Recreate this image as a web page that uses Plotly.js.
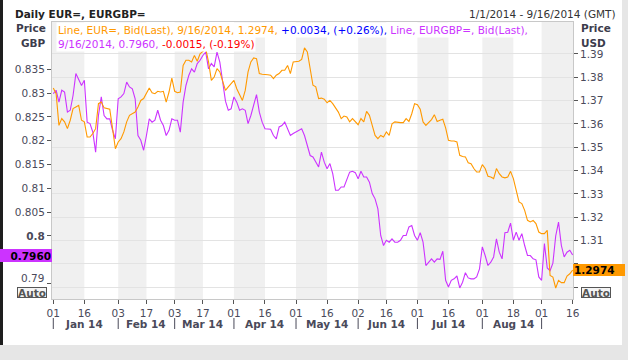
<!DOCTYPE html>
<html><head><meta charset="utf-8">
<script src="https://cdn.plot.ly/plotly-3.0.1.min.js"></script>
<style>
html,body{margin:0;padding:0;background:#e6e6e6;overflow:hidden;}
#frame{position:absolute;left:0;top:0;width:622px;height:345px;background:#fff;border-left:3px solid #1e1e1e;box-sizing:border-box;}
#chart{position:absolute;left:0;top:0;width:628px;height:360px;}
</style></head><body>
<div id="frame"></div><div id="chart"></div>
<script>
// ---- data ----
const startDay = '2014-01-01';
const endDay = '2014-09-16';

const eurUsd = [
1.3754,1.3730,1.3594,1.3623,1.3609,1.3580,1.3616,1.3666,1.3673,1.3680,
1.3616,1.3609,1.3544,1.3544,1.3559,1.3580,1.3687,1.3694,1.3669,1.3666,
1.3663,1.3580,1.3494,1.3523,1.3537,1.3566,1.3609,1.3637,1.3644,1.3651,
1.3673,1.3701,1.3709,1.3730,1.3754,1.3734,1.3730,1.3740,1.3737,1.3740,
1.3694,1.3737,1.3797,1.3740,1.3734,1.3737,1.3851,1.3873,1.3873,1.3866,
1.3894,1.3869,1.3901,1.3911,1.3923,1.3866,1.3787,1.3801,1.3837,1.3823,
1.3787,1.3744,1.3759,1.3773,1.3787,1.3751,1.3723,1.3701,1.3744,1.3823,
1.3866,1.3883,1.3880,1.3816,1.3813,1.3813,1.3811,1.3809,1.3794,1.3809,
1.3816,1.3830,1.3830,1.3851,1.3816,1.3866,1.3869,1.3869,1.3877,1.3926,
1.3909,1.3837,1.3766,1.3759,1.3709,1.3711,1.3706,1.3691,1.3701,1.3687,
1.3666,1.3651,1.3623,1.3634,1.3630,1.3609,1.3623,1.3609,1.3597,1.3623,
1.3609,1.3654,1.3637,1.3594,1.3551,1.3537,1.3551,1.3544,1.3566,1.3551,
1.3601,1.3609,1.3606,1.3606,1.3606,1.3623,1.3611,1.3644,1.3687,1.3683,
1.3663,1.3609,1.3594,1.3609,1.3619,1.3640,1.3611,1.3616,1.3620,1.3583,
1.3530,1.3527,1.3527,1.3523,1.3466,1.3461,1.3459,1.3434,1.3430,1.3409,
1.3394,1.3394,1.3426,1.3409,1.3376,1.3373,1.3366,1.3409,1.3387,1.3373,
1.3369,1.3373,1.3397,1.3366,1.3309,1.3266,1.3259,1.3230,1.3187,1.3180,
1.3187,1.3173,1.3137,1.3130,1.3130,1.3144,1.2951,1.2944,1.2897,1.2930,
1.2920,1.2920,1.2948,1.2958,1.2974];

const eurGbp = [
0.8299,0.8306,0.8281,0.8306,0.8302,0.8260,0.8264,0.8295,0.8341,0.8330,
0.8316,0.8327,0.8239,0.8236,0.8218,0.8176,0.8253,0.8292,0.8253,0.8246,
0.8246,0.8222,0.8204,0.8288,0.8292,0.8299,0.8323,0.8313,0.8309,0.8288,
0.8211,0.8201,0.8180,0.8211,0.8246,0.8239,0.8243,0.8264,0.8243,0.8232,
0.8211,0.8222,0.8246,0.8243,0.8243,0.8218,0.8281,0.8316,0.8337,0.8351,
0.8344,0.8362,0.8369,0.8379,0.8386,0.8351,0.8362,0.8355,0.8386,0.8365,
0.8320,0.8283,0.8264,0.8267,0.8292,0.8281,0.8264,0.8267,0.8264,0.8236,
0.8253,0.8278,0.8297,0.8260,0.8239,0.8225,0.8225,0.8224,0.8211,0.8204,
0.8229,0.8232,0.8239,0.8225,0.8211,0.8215,0.8218,0.8222,0.8225,0.8211,
0.8190,0.8169,0.8166,0.8155,0.8145,0.8176,0.8155,0.8141,0.8152,0.8131,
0.8096,0.8096,0.8103,0.8103,0.8120,0.8134,0.8136,0.8133,0.8120,0.8136,
0.8124,0.8124,0.8113,0.8089,0.8078,0.8057,0.8001,0.7980,0.7991,0.7987,
0.7994,0.7987,0.7987,0.7991,0.8001,0.8001,0.8019,0.8022,0.8001,0.7991,
0.8007,0.7987,0.7938,0.7945,0.7952,0.7945,0.7952,0.7951,0.7968,0.7907,
0.7893,0.7907,0.7910,0.7916,0.7891,0.7903,0.7923,0.7912,0.7910,0.7910,
0.7914,0.7931,0.7977,0.7959,0.7938,0.7945,0.7956,0.7994,0.7966,0.7952,
0.8007,0.8008,0.8027,0.7991,0.8008,0.7991,0.8005,0.7980,0.7959,0.7959,
0.7952,0.7950,0.7914,0.7907,0.7984,0.7933,0.7927,0.7943,0.8000,0.8029,
0.7980,0.7956,0.7966,0.7970,0.7960];

const tickDates = ['2014-01-01','2014-01-16','2014-02-03','2014-02-17','2014-03-03','2014-03-17',
  '2014-04-01','2014-04-16','2014-05-01','2014-05-16','2014-06-02','2014-06-16',
  '2014-07-01','2014-07-16','2014-08-01','2014-08-18','2014-09-01','2014-09-16'];
const tickLabels = ['01','16','03','17','03','17','01','16','01','16','02','16','01','16','01','18','01','16'];
const monthNames = ['Jan 14','Feb 14','Mar 14','Apr 14','May 14','Jun 14','Jul 14','Aug 14'];
const monthLabelDates = ['2014-01-16','2014-02-17','2014-03-17','2014-04-16','2014-05-16','2014-06-16','2014-07-16','2014-08-18'];
const monthStarts = ['2014-01-01','2014-02-03','2014-03-03','2014-04-01','2014-05-01','2014-06-02','2014-07-01','2014-08-01','2014-09-01'];
const bandStarts = ['2013-12-31 12:00','2014-02-03','2014-03-03','2014-04-01','2014-05-01','2014-06-02','2014-07-01','2014-08-01','2014-09-01'];
const bandEnds   = ['2014-01-16','2014-02-17','2014-03-17','2014-04-16','2014-05-16','2014-06-16','2014-07-16','2014-08-18','2014-09-17'];
const gbpTicks = [0.79,0.795,0.8,0.805,0.81,0.815,0.82,0.825,0.83,0.835];
// 0.795 sits under the last-value box and 0.79 is drawn lifted above the Auto box (see annotations)
const gbpTickText = ['','','<b>0.8</b>','0.805','0.81','0.815','0.82','0.825','0.83','0.835'];
const gbpLowLabel = '0.79';
const usdTicks = [1.29,1.30,1.31,1.32,1.33,1.34,1.35,1.36,1.37,1.38,1.39];
// 1.29 is covered by the Auto box and 1.3 by the last-value box in the reference
const usdTickText = ['','','1.31','1.32','1.33','1.34','1.35','1.36','1.37','1.38','1.39'];
const eurChange = '+0.0034, (+0.26%)';
const gbpChange = '-0.0015, (-0.19%)';

// ---- trading days (weekdays) ----
function weekdays(s, e) {
  const out = [];
  let d = new Date(s + 'T00:00:00Z');
  const end = new Date(e + 'T00:00:00Z');
  while (d <= end) {
    const w = d.getUTCDay();
    if (w !== 0 && w !== 6) out.push(d.toISOString().slice(0, 10));
    d = new Date(d.getTime() + 86400000);
  }
  return out;
}
const dates = weekdays(startDay, endDay);

const FONT = '"DejaVu Sans", Verdana, sans-serif';
const TXT = '#4a4a5a';
const ORANGE = '#ff9900';
const PURPLE = '#cc33ff';
const lastUsd = eurUsd[eurUsd.length - 1];
const lastGbp = eurGbp[eurGbp.length - 1];
const py = p => (299 - p) / 277;      // pixel row -> paper y
const px = p => (p - 52) / 521;       // pixel col -> paper x

const traces = [
  {x: dates, y: eurGbp, type: 'scatter', mode: 'lines', yaxis: 'y', line: {color: PURPLE, width: 1.1}, hoverinfo: 'skip'},
  {x: dates, y: eurUsd, type: 'scatter', mode: 'lines', yaxis: 'y2', line: {color: ORANGE, width: 1.1}, hoverinfo: 'skip'}
];

const shapes = [];
bandStarts.forEach((s, i) => shapes.push({type: 'rect', xref: 'x', yref: 'paper', x0: s, x1: bandEnds[i], y0: 0, y1: 1,
  fillcolor: '#f0f0f0', line: {width: 0}, layer: 'below'}));
monthStarts.forEach(d => shapes.push({type: 'line', xref: 'x', yref: 'paper', x0: d, x1: d, y0: py(318), y1: py(329),
  line: {color: TXT, width: 1}}));

const ann = [];
const base = {showarrow: false, font: {family: FONT, size: 10.5, color: TXT}};
ann.push(Object.assign({}, base, {xref: 'paper', yref: 'paper', x: px(56), xanchor: 'left', y: py(29.5), yanchor: 'middle',
  bgcolor: '#ffffff', borderpad: 1,
  text: '<span style="color:' + ORANGE + '">Line, EUR=, Bid(Last), 9/16/2014, ' + lastUsd.toFixed(4) + ', </span>' +
        '<span style="color:#0000ff">' + eurChange + ',</span>' +
        '<span style="color:' + PURPLE + '"> Line, EURGBP=, Bid(Last),</span>'}));
ann.push(Object.assign({}, base, {xref: 'paper', yref: 'paper', x: px(56), xanchor: 'left', y: py(43.5), yanchor: 'middle',
  bgcolor: '#ffffff', borderpad: 1,
  text: '<span style="color:' + PURPLE + '">9/16/2014, ' + lastGbp.toFixed(4) + ', </span>' +
        '<span style="color:#ff0000">' + gbpChange + '</span>'}));
// lifted lowest left tick label
ann.push(Object.assign({}, base, {xref: 'paper', yref: 'paper', x: 0, xanchor: 'right', xshift: -6, y: py(277.5), yanchor: 'middle',
  text: gbpLowLabel}));
// axis unit labels
[['Price', 28], ['GBP', 43]].forEach(t => ann.push(Object.assign({}, base, {xref: 'paper', yref: 'paper', x: 0, xanchor: 'right', xshift: -4,
  y: py(t[1]), yanchor: 'middle', text: '<b>' + t[0] + '</b>', font: {family: FONT, size: 10.5, color: '#3c3c4c'}})));
[['Price', 28], ['USD', 43]].forEach(t => ann.push(Object.assign({}, base, {xref: 'paper', yref: 'paper', x: 1, xanchor: 'left', xshift: 6,
  y: py(t[1]), yanchor: 'middle', text: '<b>' + t[0] + '</b>', font: {family: FONT, size: 10.5, color: '#3c3c4c'}})));
// header right
ann.push(Object.assign({}, base, {xref: 'paper', yref: 'paper', x: px(618), xanchor: 'right', y: py(14), yanchor: 'middle',
  text: '1/1/2014 - 9/16/2014 (GMT)', font: {family: FONT, size: 10.5, color: '#333'}}));
// month labels
monthNames.forEach((m, i) => ann.push(Object.assign({}, base, {xref: 'x', yref: 'paper', x: monthLabelDates[i], xanchor: 'center',
  y: py(323.5), yanchor: 'middle', text: '<b>' + m + '</b>'})));
// last value boxes
ann.push(Object.assign({}, base, {xref: 'paper', yref: 'y', x: 0, xanchor: 'right', y: lastGbp, yanchor: 'middle',
  width: 50, height: 11, borderpad: 1, borderwidth: 0, bgcolor: PURPLE, align: 'right',
  text: '<b>' + lastGbp.toFixed(4) + '</b>', font: {family: FONT, size: 10.5, color: '#000'}}));
ann.push(Object.assign({}, base, {xref: 'paper', yref: 'y2', x: 1, xanchor: 'left', y: lastUsd, yanchor: 'middle',
  width: 50, height: 10, borderpad: 1, borderwidth: 0, bgcolor: ORANGE, align: 'left',
  text: '<b>' + lastUsd.toFixed(4) + '</b>', font: {family: FONT, size: 10.5, color: '#000'}}));
// Auto boxes
ann.push(Object.assign({}, base, {xref: 'paper', yref: 'paper', x: 0, xanchor: 'right', xshift: -5, y: 0, yanchor: 'bottom', yshift: 1,
  width: 28, height: 9, borderpad: 0, borderwidth: 1, bordercolor: '#555', bgcolor: '#f4f4f4',
  text: '<b>Auto</b>', font: {family: FONT, size: 10.5, color: '#555'}}));
ann.push(Object.assign({}, base, {xref: 'paper', yref: 'paper', x: 1, xanchor: 'left', xshift: 8, y: 0, yanchor: 'bottom', yshift: 1,
  width: 28, height: 9, borderpad: 0, borderwidth: 1, bordercolor: '#555', bgcolor: '#f4f4f4',
  text: '<b>Auto</b>', font: {family: FONT, size: 10.5, color: '#555'}}));

const layout = {
  width: 628, height: 360,
  margin: {l: 52, r: 55, t: 22, b: 61, pad: 0},
  paper_bgcolor: 'rgba(0,0,0,0)',
  plot_bgcolor: '#ffffff',
  showlegend: false,
  font: {family: FONT, size: 10.5, color: TXT},
  title: {text: '<b>Daily EUR=, EURGBP=</b>', x: 15 / 628, xanchor: 'left', xref: 'container',
          y: 1 - 14 / 360, yanchor: 'middle', yref: 'container', font: {family: FONT, size: 10.5, color: '#222'}},
  xaxis: {type: 'date', range: ['2013-12-31 13:00', '2014-09-16 03:00'], rangebreaks: [{bounds: ['sat', 'mon']}],
    tickmode: 'array', tickvals: tickDates, ticktext: tickLabels, ticks: 'outside', ticklen: 4, tickcolor: '#555',
    showgrid: false, zeroline: false, showline: true, linecolor: '#c8c8c8', mirror: true,
    tickfont: {family: FONT, size: 10.5, color: TXT}, fixedrange: true},
  yaxis: {range: [0.78677, 0.84493], tickmode: 'array', tickvals: gbpTicks, ticktext: gbpTickText,
    ticks: 'outside', ticklen: 4, tickcolor: '#555', showgrid: false, zeroline: false, showline: true, linecolor: '#c8c8c8',
    tickfont: {family: FONT, size: 10.5, color: TXT}, fixedrange: true},
  yaxis2: {overlaying: 'y', side: 'right', anchor: 'x', range: [1.28499, 1.40371], tickmode: 'array', tickvals: usdTicks, ticktext: usdTickText,
    ticks: 'outside', ticklen: 4, tickcolor: '#555', showgrid: true, gridcolor: '#e3e3e3', gridwidth: 1, zeroline: false,
    showline: true, linecolor: '#c8c8c8', tickfont: {family: FONT, size: 10.5, color: TXT}, fixedrange: true},
  shapes: shapes,
  annotations: ann
};

Plotly.newPlot('chart', traces, layout, {staticPlot: true, displayModeBar: false});
</script></body></html>
